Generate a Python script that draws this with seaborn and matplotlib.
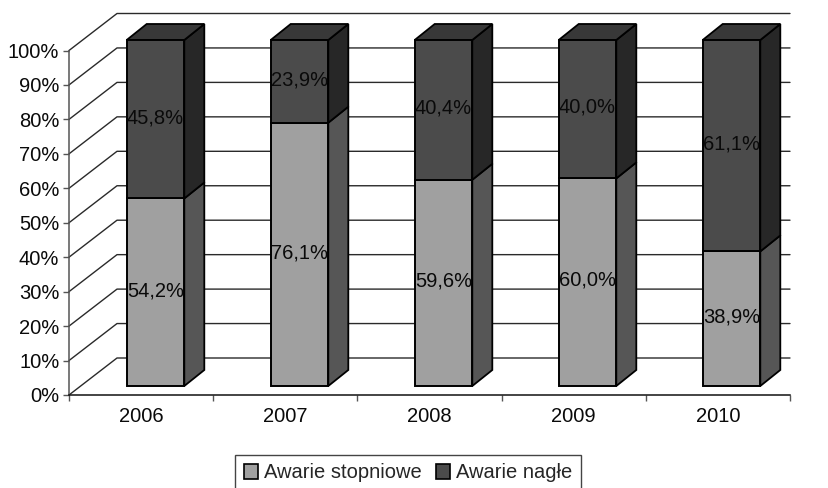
import matplotlib
matplotlib.use("Agg")
import matplotlib.pyplot as plt
import seaborn as sns
from matplotlib.patches import Polygon

years = ["2006", "2007", "2008", "2009", "2010"]
gradual = [54.2, 76.1, 59.6, 60.0, 38.9]
sudden = [45.8, 23.9, 40.4, 40.0, 61.1]
gradual_labels = ["54,2%", "76,1%", "59,6%", "60,0%", "38,9%"]
sudden_labels = ["45,8%", "23,9%", "40,4%", "40,0%", "61,1%"]
y_ticks = [0, 10, 20, 30, 40, 50, 60, 70, 80, 90, 100]
series_names = ["Awarie stopniowe", "Awarie nagłe"]

LIGHT, DARK = "#a0a0a0", "#4b4b4b"
TOP_DARK, SIDE_DARK, SIDE_LIGHT = "#383838", "#272727", "#565656"
W, H = 829, 488
FS = 14.5
INK = "#0a0a0a"

sns.set_theme(style="white")
plt.rcParams["font.family"] = ["Liberation Sans", "DejaVu Sans"]
fig = plt.figure(figsize=(W / 100, H / 100), dpi=100)


def box(l, r, top, bottom):
    return [l / W, 1 - bottom / H, (r - l) / W, (bottom - top) / H]


# Axis plane
ax = fig.add_axes(box(69, 790, 50.5, 395))
ax.set_xlim(-0.5, 4.5)
ax.set_ylim(0, 100)
ax.patch.set_alpha(0)
for s in ("top", "right"):
    ax.spines[s].set_visible(False)
for s in ("left", "bottom"):
    ax.spines[s].set_color("#555555")
    ax.spines[s].set_linewidth(1.1)
ax.spines["bottom"].set_color("#111111")
ax.set_yticks(y_ticks, [f"{v}%" for v in y_ticks], fontsize=FS, color=INK)
ax.set_xticks(range(len(years)), years, fontsize=FS, color=INK)
ax.set_xticks([i - 0.5 for i in range(len(years) + 1)], minor=True)
ax.tick_params(axis="x", which="major", length=0, pad=9)
ax.tick_params(axis="x", which="minor", length=4, width=1, color="#555555", bottom=True)
ax.tick_params(axis="y", length=4, width=1, color="#555555", pad=3, left=True)

# Back wall
wall_dx, wall_dy = 48 / 144.2, 37 / 3.445
for v in y_ticks:
    ax.plot([-0.5, -0.5 + wall_dx, 4.5], [v, v + wall_dy, v + wall_dy],
            color="#2a2a2a", lw=1.0, clip_on=False, zorder=1)

# Bar plane
front = fig.add_axes(box(83.5, 803.5, 40, 386))
front.patch.set_alpha(0)
sns.barplot(x=years, y=gradual, color=LIGHT, width=0.4, saturation=1,
            edgecolor="black", linewidth=1.4, ax=front, zorder=4, clip_on=False)
sns.barplot(x=years, y=sudden, bottom=gradual, color=DARK, width=0.4, saturation=1,
            edgecolor="black", linewidth=1.4, ax=front, zorder=4, clip_on=False)
front.set_xlim(-0.5, 4.5)
front.set_ylim(0, 100)
front.axis("off")

dx, dy = 20 / 144, 16 / 3.46
hw = 0.2
for i in range(len(years)):
    lo, hi = gradual[i], gradual[i] + sudden[i]
    r = i + hw
    faces = [
        ([(r, 0), (r + dx, dy), (r + dx, lo + dy), (r, lo)], SIDE_LIGHT),
        ([(r, lo), (r + dx, lo + dy), (r + dx, hi + dy), (r, hi)], SIDE_DARK),
        ([(i - hw, hi), (r, hi), (r + dx, hi + dy), (i - hw + dx, hi + dy)], TOP_DARK),
    ]
    for pts, col in faces:
        front.add_patch(Polygon(pts, closed=True, facecolor=col, edgecolor="black",
                                lw=1.3, zorder=3, clip_on=False))
    front.text(i, lo / 2 + 0.5, gradual_labels[i], ha="center", va="center", fontsize=FS,
               color=INK, zorder=6)
    front.text(i, lo + (hi - lo) / 2 + 0.5, sudden_labels[i], ha="center", va="center",
               fontsize=FS, color=INK, zorder=6)

handles = [plt.Rectangle((0, 0), 1, 1, facecolor=c, edgecolor="black", lw=1.2)
           for c in (LIGHT, DARK)]
fig.legend(handles, series_names, loc="center", ncol=2,
           bbox_to_anchor=(408 / W, 1 - 473 / H), fontsize=FS, frameon=True, fancybox=False,
           edgecolor="#444444", framealpha=1, handlelength=0.7, handleheight=0.7,
           handletextpad=0.3, columnspacing=0.7, borderpad=0.42, borderaxespad=0)

fig.savefig("out.png", dpi=100)
